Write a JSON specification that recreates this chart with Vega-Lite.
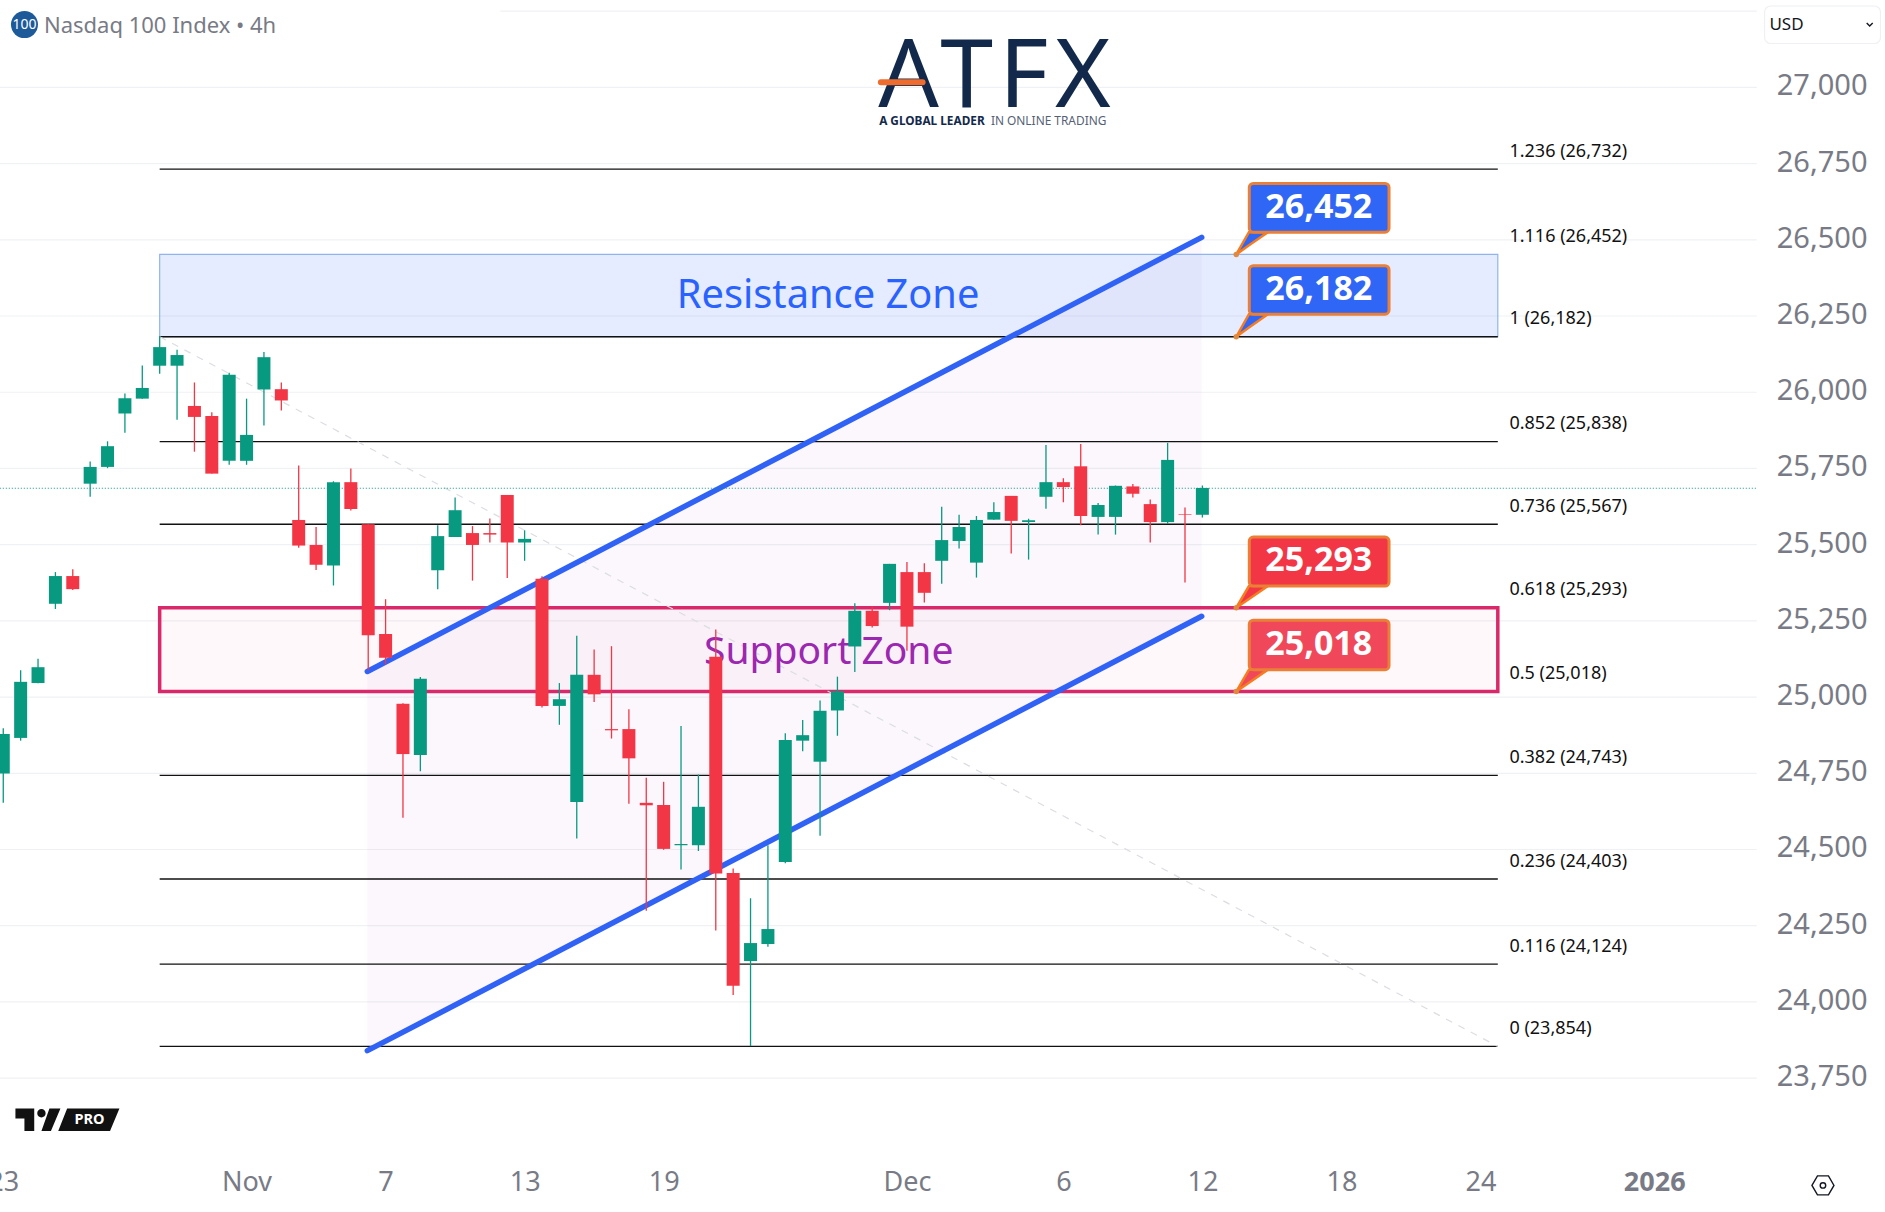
{
  "$schema": "https://vega.github.io/schema/vega-lite/v6.json",
  "width": 1885,
  "height": 1212,
  "padding": 0,
  "autosize": {"type": "none"},
  "background": "white",
  "view": {"stroke": null},
  "config": {"text": {"font": "Noto Sans"}, "axis": {"labelFont": "Noto Sans"}, "scale": {"continuousPadding": 0}},
  "datasets": {
    "candles": [
      {"i":0,"open":24749,"high":24898,"low":24653,"close":24879},
      {"i":1,"open":24866,"high":25088,"low":24857,"close":25050},
      {"i":2,"open":25046,"high":25126,"low":25045,"close":25098},
      {"i":3,"open":25306,"high":25410,"low":25289,"close":25397},
      {"i":4,"open":25397,"high":25419,"low":25351,"close":25354},
      {"i":5,"open":25700,"high":25773,"low":25657,"close":25755},
      {"i":6,"open":25755,"high":25839,"low":25751,"close":25823},
      {"i":7,"open":25930,"high":25996,"low":25867,"close":25980},
      {"i":8,"open":25979,"high":26088,"low":25979,"close":26014},
      {"i":9,"open":26087,"high":26184,"low":26061,"close":26148},
      {"i":10,"open":26087,"high":26139,"low":25910,"close":26122},
      {"i":11,"open":25955,"high":26032,"low":25805,"close":25919},
      {"i":12,"open":25922,"high":25934,"low":25733,"close":25733},
      {"i":13,"open":25775,"high":26064,"low":25762,"close":26057},
      {"i":14,"open":25775,"high":25979,"low":25762,"close":25860},
      {"i":15,"open":26009,"high":26132,"low":25891,"close":26115},
      {"i":16,"open":26010,"high":26032,"low":25940,"close":25973},
      {"i":17,"open":25581,"high":25760,"low":25490,"close":25497},
      {"i":18,"open":25499,"high":25558,"low":25417,"close":25434},
      {"i":19,"open":25432,"high":25708,"low":25366,"close":25705},
      {"i":20,"open":25705,"high":25750,"low":25612,"close":25617},
      {"i":21,"open":25567,"high":25567,"low":25088,"close":25203},
      {"i":22,"open":25207,"high":25321,"low":25107,"close":25129},
      {"i":23,"open":24978,"high":24980,"low":24604,"close":24813},
      {"i":24,"open":24810,"high":25066,"low":24757,"close":25060},
      {"i":25,"open":25416,"high":25564,"low":25354,"close":25528},
      {"i":26,"open":25525,"high":25655,"low":25525,"close":25613},
      {"i":27,"open":25538,"high":25561,"low":25382,"close":25499},
      {"i":28,"open":25538,"high":25586,"low":25507,"close":25533},
      {"i":29,"open":25663,"high":25663,"low":25391,"close":25507},
      {"i":30,"open":25507,"high":25547,"low":25447,"close":25519},
      {"i":31,"open":25388,"high":25396,"low":24966,"close":24971},
      {"i":32,"open":24971,"high":25046,"low":24909,"close":24993},
      {"i":33,"open":24656,"high":25201,"low":24536,"close":25073},
      {"i":34,"open":25073,"high":25156,"low":24984,"close":25009},
      {"i":35,"open":24895,"high":25167,"low":24864,"close":24891},
      {"i":36,"open":24895,"high":24960,"low":24650,"close":24799},
      {"i":37,"open":24653,"high":24735,"low":24299,"close":24645},
      {"i":38,"open":24646,"high":24722,"low":24499,"close":24502},
      {"i":39,"open":24514,"high":24905,"low":24434,"close":24518},
      {"i":40,"open":24514,"high":24746,"low":24495,"close":24640},
      {"i":41,"open":25132,"high":25222,"low":24234,"close":24421},
      {"i":42,"open":24423,"high":24438,"low":24023,"close":24053},
      {"i":43,"open":24134,"high":24340,"low":23855,"close":24193},
      {"i":44,"open":24190,"high":24514,"low":24181,"close":24239},
      {"i":45,"open":24459,"high":24881,"low":24455,"close":24859},
      {"i":46,"open":24857,"high":24925,"low":24822,"close":24875},
      {"i":47,"open":24788,"high":24989,"low":24545,"close":24955},
      {"i":48,"open":24956,"high":25067,"low":24873,"close":25019},
      {"i":49,"open":25166,"high":25308,"low":25082,"close":25283},
      {"i":50,"open":25283,"high":25298,"low":25228,"close":25233},
      {"i":51,"open":25309,"high":25437,"low":25285,"close":25437},
      {"i":52,"open":25410,"high":25443,"low":25152,"close":25231},
      {"i":53,"open":25410,"high":25439,"low":25310,"close":25342},
      {"i":54,"open":25447,"high":25624,"low":25372,"close":25515},
      {"i":55,"open":25512,"high":25598,"low":25487,"close":25558},
      {"i":56,"open":25441,"high":25594,"low":25392,"close":25581},
      {"i":57,"open":25582,"high":25639,"low":25582,"close":25607},
      {"i":58,"open":25660,"high":25660,"low":25471,"close":25578},
      {"i":59,"open":25574,"high":25585,"low":25451,"close":25580},
      {"i":60,"open":25657,"high":25827,"low":25618,"close":25705},
      {"i":61,"open":25705,"high":25718,"low":25639,"close":25689},
      {"i":62,"open":25757,"high":25830,"low":25564,"close":25594},
      {"i":63,"open":25591,"high":25637,"low":25533,"close":25630},
      {"i":64,"open":25591,"high":25694,"low":25533,"close":25693},
      {"i":65,"open":25691,"high":25699,"low":25655,"close":25667},
      {"i":66,"open":25633,"high":25648,"low":25507,"close":25574},
      {"i":67,"open":25574,"high":25834,"low":25568,"close":25778},
      {"i":68,"open":25600,"high":25622,"low":25376,"close":25598},
      {"i":69,"open":25598,"high":25694,"low":25589,"close":25686}
    ],
    "grid": [
      {"price":27250,"from":28.6,"to":100.9},
      {"price":27000,"from":-0.2,"to":100.9},
      {"price":26750,"from":-0.2,"to":100.9},
      {"price":26500,"from":-0.2,"to":100.9},
      {"price":26250,"from":-0.2,"to":100.9},
      {"price":26000,"from":-0.2,"to":100.9},
      {"price":25750,"from":-0.2,"to":100.9},
      {"price":25500,"from":-0.2,"to":100.9},
      {"price":25250,"from":-0.2,"to":100.9},
      {"price":25000,"from":-0.2,"to":100.9},
      {"price":24750,"from":-0.2,"to":100.9},
      {"price":24500,"from":-0.2,"to":100.9},
      {"price":24250,"from":-0.2,"to":100.9},
      {"price":24000,"from":-0.2,"to":100.9},
      {"price":23750,"from":-0.2,"to":100.9}
    ],
    "fibLines": [
      {"level":26732,"from":9,"to":86},
      {"level":26182,"from":9,"to":86},
      {"level":25838,"from":9,"to":86},
      {"level":25567,"from":9,"to":86},
      {"level":24743,"from":9,"to":86},
      {"level":24403,"from":9,"to":86},
      {"level":24124,"from":9,"to":86},
      {"level":23854,"from":9,"to":86}
    ],
    "fibLabels": [
      {"level":26732,"at":86.67,"text":"1.236 (26,732)"},
      {"level":26452,"at":86.67,"text":"1.116 (26,452)"},
      {"level":26182,"at":86.67,"text":"1 (26,182)"},
      {"level":25838,"at":86.67,"text":"0.852 (25,838)"},
      {"level":25567,"at":86.67,"text":"0.736 (25,567)"},
      {"level":25293,"at":86.67,"text":"0.618 (25,293)"},
      {"level":25018,"at":86.67,"text":"0.5 (25,018)"},
      {"level":24743,"at":86.67,"text":"0.382 (24,743)"},
      {"level":24403,"at":86.67,"text":"0.236 (24,403)"},
      {"level":24124,"at":86.67,"text":"0.116 (24,124)"},
      {"level":23854,"at":86.67,"text":"0 (23,854)"}
    ],
    "callouts": [
      {"level":26452,"text":"26,452","tone":"blue","from":71.7,"to":79.74,"top":26685,"bottom":26525,"middle":26605,"at":75.7,"pin":70.95},
      {"level":26182,"text":"26,182","tone":"blue","from":71.7,"to":79.74,"top":26415,"bottom":26256,"middle":26335,"at":75.7,"pin":70.95},
      {"level":25293,"text":"25,293","tone":"red","from":71.7,"to":79.74,"top":25525,"bottom":25364,"middle":25445,"at":75.7,"pin":70.95},
      {"level":25018,"text":"25,018","tone":"pale","from":71.7,"to":79.74,"top":25252,"bottom":25090,"middle":25171,"at":75.7,"pin":70.95}
    ],
    "tails": [
      {"name":"a","tone":"blue","i":70.95,"lo":26452,"hi":26452},
      {"name":"a","tone":"blue","i":71.68,"lo":26482,"hi":26525},
      {"name":"a","tone":"blue","i":72.77,"lo":26525,"hi":26525},
      {"name":"b","tone":"blue","i":70.95,"lo":26182,"hi":26182},
      {"name":"b","tone":"blue","i":71.68,"lo":26212,"hi":26256},
      {"name":"b","tone":"blue","i":72.77,"lo":26256,"hi":26256},
      {"name":"c","tone":"red","i":70.95,"lo":25293,"hi":25293},
      {"name":"c","tone":"red","i":71.68,"lo":25322,"hi":25364},
      {"name":"c","tone":"red","i":72.77,"lo":25364,"hi":25364},
      {"name":"d","tone":"pale","i":70.95,"lo":25018,"hi":25018},
      {"name":"d","tone":"pale","i":71.68,"lo":25047,"hi":25090},
      {"name":"d","tone":"pale","i":72.77,"lo":25090,"hi":25090}
    ],
    "channel": [
      {"i":20.95,"upper":25084,"lower":23840},
      {"i":68.96,"upper":26508,"lower":25265}
    ],
    "logo": [
      {"at":52.1,"letter":"A"},
      {"at":55.43,"letter":"T"},
      {"at":58.72,"letter":"F"},
      {"at":62.12,"letter":"X"}
    ]
  },
  "layer": [
    {
      "data": {"name": "grid"},
      "mark": {"type": "rule", "color": "#f0f1f4", "strokeWidth": 1.2},
      "encoding": {
        "x": {
          "field": "from", "type": "quantitative",
          "scale": {"domain": [-0.188, 108.28], "nice": false, "zero": false, "padding": 0},
          "axis": {
            "orient": "bottom", "title": null, "grid": false, "domain": false, "ticks": false,
            "values": [0, 14, 22, 30, 38, 52, 61, 69, 77, 85, 95],
            "labelExpr": "{'0':'23','14':'Nov','22':'7','30':'13','38':'19','52':'Dec','61':'6','69':'12','77':'18','85':'24','95':'2026'}[datum.value]",
            "labelFontSize": 27, "labelColor": "#787b86", "labelBaseline": "middle",
            "labelPadding": -30, "labelOverlap": false, "labelBound": false, "labelFlush": false,
            "labelFontWeight": {"condition": {"test": "datum.value == 95", "value": "bold"}, "value": "normal"}
          }
        },
        "x2": {"field": "to"},
        "y": {
          "field": "price", "type": "quantitative",
          "scale": {"domain": [23310.8, 27286.7], "nice": false, "zero": false},
          "axis": {
            "orient": "right", "title": null, "grid": false, "domain": false, "ticks": false,
            "values": [23750, 24000, 24250, 24500, 24750, 25000, 25250, 25500, 25750, 26000, 26250, 26500, 26750, 27000],
            "format": ",d", "labelFontSize": 29, "labelColor": "#787b86", "labelAlign": "right",
            "labelPadding": -18, "labelOffset": -1.5, "labelOverlap": false, "labelBound": false
          }
        }
      }
    },
    {
      "data": {"name": "channel"},
      "mark": {"type": "area", "color": "#9c27b0", "opacity": 0.04},
      "encoding": {
        "x": {"field": "i", "type": "quantitative"},
        "y": {"field": "upper", "type": "quantitative"},
        "y2": {"field": "lower"}
      }
    },
    {
      "data": {"values": [{"from": 9, "to": 86, "top": 26452, "bottom": 26182}]},
      "mark": {"type": "rect", "fill": "#2962ff", "fillOpacity": 0.12, "stroke": "#90b4ee", "strokeWidth": 1.2},
      "encoding": {
        "x": {"field": "from", "type": "quantitative"},
        "x2": {"field": "to"},
        "y": {"field": "top", "type": "quantitative"},
        "y2": {"field": "bottom"}
      }
    },
    {
      "data": {"values": [{"from": 9, "to": 86, "top": 25293, "bottom": 25018}]},
      "mark": {"type": "rect", "fill": "#e91e63", "fillOpacity": 0.03, "stroke": "#d9296a", "strokeWidth": 3.5},
      "encoding": {
        "x": {"field": "from", "type": "quantitative"},
        "x2": {"field": "to"},
        "y": {"field": "top", "type": "quantitative"},
        "y2": {"field": "bottom"}
      }
    },
    {
      "data": {"name": "fibLines"},
      "mark": {"type": "rule", "color": "#111111", "strokeWidth": 1.4},
      "encoding": {
        "x": {"field": "from", "type": "quantitative"},
        "x2": {"field": "to"},
        "y": {"field": "level", "type": "quantitative"}
      }
    },
    {
      "data": {"values": [{"i": 9, "price": 26182}, {"i": 86, "price": 23854}]},
      "mark": {"type": "line", "color": "#dcdde2", "strokeWidth": 1.2, "strokeDash": [7, 7]},
      "encoding": {
        "x": {"field": "i", "type": "quantitative"},
        "y": {"field": "price", "type": "quantitative"}
      }
    },
    {
      "data": {"name": "fibLabels"},
      "mark": {"type": "text", "align": "left", "baseline": "middle", "fontSize": 18, "color": "#111111", "dy": -17.5},
      "encoding": {
        "x": {"field": "at", "type": "quantitative"},
        "y": {"field": "level", "type": "quantitative"},
        "text": {"field": "text"}
      }
    },
    {
      "data": {"values": [{"at": 47.46, "price": 26317, "text": "Resistance Zone"}]},
      "mark": {"type": "text", "align": "center", "baseline": "middle", "fontSize": 39.8, "color": "#2962ff"},
      "encoding": {
        "x": {"field": "at", "type": "quantitative"},
        "y": {"field": "price", "type": "quantitative"},
        "text": {"field": "text"}
      }
    },
    {
      "data": {"values": [{"at": 47.5, "price": 25148, "text": "Support Zone"}]},
      "mark": {"type": "text", "align": "center", "baseline": "middle", "fontSize": 39, "color": "#9c27b0"},
      "encoding": {
        "x": {"field": "at", "type": "quantitative"},
        "y": {"field": "price", "type": "quantitative"},
        "text": {"field": "text"}
      }
    },
    {
      "data": {"name": "channel"},
      "mark": {"type": "line", "color": "#2f62f5", "strokeWidth": 5.5, "strokeCap": "round"},
      "encoding": {
        "x": {"field": "i", "type": "quantitative"},
        "y": {"field": "upper", "type": "quantitative"}
      }
    },
    {
      "data": {"name": "channel"},
      "mark": {"type": "line", "color": "#2f62f5", "strokeWidth": 5.5, "strokeCap": "round"},
      "encoding": {
        "x": {"field": "i", "type": "quantitative"},
        "y": {"field": "lower", "type": "quantitative"}
      }
    },
    {
      "data": {"values": [{"from": -0.2, "to": 100.9, "price": 25685}]},
      "mark": {"type": "rule", "color": "#089981", "strokeWidth": 1.2, "strokeDash": [1, 2]},
      "encoding": {
        "x": {"field": "from", "type": "quantitative"},
        "x2": {"field": "to"},
        "y": {"field": "price", "type": "quantitative"}
      }
    },
    {
      "data": {"name": "candles"},
      "mark": {"type": "rule", "strokeWidth": 1.3},
      "encoding": {
        "x": {"field": "i", "type": "quantitative"},
        "y": {"field": "low", "type": "quantitative"},
        "y2": {"field": "high"},
        "color": {"condition": {"test": "datum.close >= datum.open", "value": "#089981"}, "value": "#f23645"}
      }
    },
    {
      "data": {"name": "candles"},
      "mark": {"type": "bar", "size": 13},
      "encoding": {
        "x": {"field": "i", "type": "quantitative"},
        "y": {"field": "open", "type": "quantitative"},
        "y2": {"field": "close"},
        "color": {"condition": {"test": "datum.close >= datum.open", "value": "#089981"}, "value": "#f23645"}
      }
    },
    {
      "data": {"name": "tails"},
      "mark": {"type": "area", "stroke": "#f57c1f", "strokeWidth": 2.5},
      "encoding": {
        "x": {"field": "i", "type": "quantitative"},
        "y": {"field": "lo", "type": "quantitative"},
        "y2": {"field": "hi"},
        "detail": {"field": "name"},
        "fill": {"field": "tone", "scale": {"domain": ["blue", "red", "pale"], "range": ["#2f66f5", "#f23645", "#f0485a"]}, "legend": null}
      }
    },
    {
      "data": {"name": "callouts"},
      "mark": {"type": "rect", "stroke": "#ea7f35", "strokeWidth": 3, "cornerRadius": 4},
      "encoding": {
        "x": {"field": "from", "type": "quantitative"},
        "x2": {"field": "to"},
        "y": {"field": "top", "type": "quantitative"},
        "y2": {"field": "bottom"},
        "fill": {"field": "tone", "scale": {"domain": ["blue", "red", "pale"], "range": ["#2f66f5", "#f23645", "#f0485a"]}, "legend": null}
      }
    },
    {
      "data": {"name": "callouts"},
      "mark": {"type": "text", "align": "center", "baseline": "middle", "fontSize": 34, "fontWeight": "bold", "color": "white"},
      "encoding": {
        "x": {"field": "at", "type": "quantitative"},
        "y": {"field": "middle", "type": "quantitative"},
        "text": {"field": "text"}
      }
    },
    {
      "data": {"name": "callouts"},
      "mark": {"type": "point", "filled": true, "size": 30, "color": "#e08a40", "opacity": 1},
      "encoding": {
        "x": {"field": "pin", "type": "quantitative"},
        "y": {"field": "level", "type": "quantitative"}
      }
    },
    {
      "data": {"values": [{"at": 1.22, "price": 27206}]},
      "mark": {"type": "point", "filled": true, "size": 729, "shape": "circle", "color": "#1c5a9a", "opacity": 1},
      "encoding": {
        "x": {"field": "at", "type": "quantitative"},
        "y": {"field": "price", "type": "quantitative"}
      }
    },
    {
      "data": {"values": [{"at": 1.22, "price": 27206, "text": "100"}]},
      "mark": {"type": "text", "align": "center", "baseline": "middle", "fontSize": 14, "color": "white"},
      "encoding": {
        "x": {"field": "at", "type": "quantitative"},
        "y": {"field": "price", "type": "quantitative"},
        "text": {"field": "text"}
      }
    },
    {
      "data": {"values": [{"at": 2.34, "price": 27203, "text": "Nasdaq 100 Index • 4h"}]},
      "mark": {"type": "text", "align": "left", "baseline": "middle", "fontSize": 22, "color": "#787b86"},
      "encoding": {
        "x": {"field": "at", "type": "quantitative"},
        "y": {"field": "price", "type": "quantitative"},
        "text": {"field": "text"}
      }
    },
    {
      "data": {"name": "logo"},
      "mark": {"type": "text", "align": "center", "baseline": "middle", "fontSize": 95, "color": "#13294b"},
      "encoding": {
        "x": {"field": "at", "type": "quantitative"},
        "y": {"datum": 27032, "type": "quantitative"},
        "text": {"field": "letter"}
      }
    },
    {
      "data": {"values": [{"from": 50.5, "to": 52.9, "price": 27017}]},
      "mark": {"type": "rule", "color": "#ee6c2d", "strokeWidth": 6, "strokeCap": "round"},
      "encoding": {
        "x": {"field": "from", "type": "quantitative"},
        "x2": {"field": "to"},
        "y": {"field": "price", "type": "quantitative"}
      }
    },
    {
      "data": {"values": [{"at": 50.4, "price": 26891, "text": "A GLOBAL LEADER"}]},
      "mark": {"type": "text", "align": "left", "baseline": "middle", "fontSize": 11.8, "fontWeight": "bold", "color": "#13294b"},
      "encoding": {
        "x": {"field": "at", "type": "quantitative"},
        "y": {"field": "price", "type": "quantitative"},
        "text": {"field": "text"}
      }
    },
    {
      "data": {"values": [{"at": 56.83, "price": 26891, "text": "IN ONLINE TRADING"}]},
      "mark": {"type": "text", "align": "left", "baseline": "middle", "fontSize": 11.9, "color": "#555f75"},
      "encoding": {
        "x": {"field": "at", "type": "quantitative"},
        "y": {"field": "price", "type": "quantitative"},
        "text": {"field": "text"}
      }
    },
    {
      "data": {"values": [{"from": 101.35, "to": 108.02, "top": 27267, "bottom": 27144}]},
      "mark": {"type": "rect", "fill": "white", "stroke": "#eef0f4", "strokeWidth": 1.2, "cornerRadius": 6},
      "encoding": {
        "x": {"field": "from", "type": "quantitative"},
        "x2": {"field": "to"},
        "y": {"field": "top", "type": "quantitative"},
        "y2": {"field": "bottom"}
      }
    },
    {
      "data": {"values": [{"at": 101.63, "price": 27206, "text": "USD"}]},
      "mark": {"type": "text", "align": "left", "baseline": "middle", "fontSize": 17, "color": "#131722"},
      "encoding": {
        "x": {"field": "at", "type": "quantitative"},
        "y": {"field": "price", "type": "quantitative"},
        "text": {"field": "text"}
      }
    },
    {
      "data": {"values": [{"at": 107.4, "price": 27206}]},
      "mark": {"type": "point", "filled": false, "size": 4, "shape": "M-3,-1.5L0,1.5L3,-1.5", "color": "#131722", "strokeWidth": 1.4, "opacity": 1},
      "encoding": {
        "x": {"field": "at", "type": "quantitative"},
        "y": {"field": "price", "type": "quantitative"}
      }
    },
    {
      "data": {"values": [{"at": 0.7, "price": 23650}]},
      "mark": {
        "type": "point", "filled": true, "size": 4, "color": "#111111", "opacity": 1,
        "shape": "M0,0L18.8,0L18.8,22.3L9,22.3L9,10L0,10ZM30.2,4.7a4.2,4.2 0 1,0 -8.4,0a4.2,4.2 0 1,0 8.4,0ZM34,0L45,0L35.5,22.3L26,22.3ZM51.7,0L104,0L94.6,22.3L42.8,22.3Z"
      },
      "encoding": {
        "x": {"field": "at", "type": "quantitative"},
        "y": {"field": "price", "type": "quantitative"}
      }
    },
    {
      "data": {"values": [{"at": 4.96, "price": 23614, "text": "PRO"}]},
      "mark": {"type": "text", "align": "center", "baseline": "middle", "fontSize": 14.5, "fontWeight": "bold", "color": "white"},
      "encoding": {
        "x": {"field": "at", "type": "quantitative"},
        "y": {"field": "price", "type": "quantitative"},
        "text": {"field": "text"}
      }
    },
    {
      "data": {"values": [{"at": 104.71, "price": 23398}]},
      "mark": {"type": "point", "filled": false, "size": 4, "shape": "M-11,0L-5.5,-9.5L5.5,-9.5L11,0L5.5,9.5L-5.5,9.5Z", "color": "#131722", "strokeWidth": 1.4, "opacity": 1},
      "encoding": {
        "x": {"field": "at", "type": "quantitative"},
        "y": {"field": "price", "type": "quantitative"}
      }
    },
    {
      "data": {"values": [{"at": 104.71, "price": 23398}]},
      "mark": {"type": "point", "filled": false, "size": 30, "shape": "circle", "color": "#131722", "strokeWidth": 1.4, "opacity": 1},
      "encoding": {
        "x": {"field": "at", "type": "quantitative"},
        "y": {"field": "price", "type": "quantitative"}
      }
    }
  ]
}
